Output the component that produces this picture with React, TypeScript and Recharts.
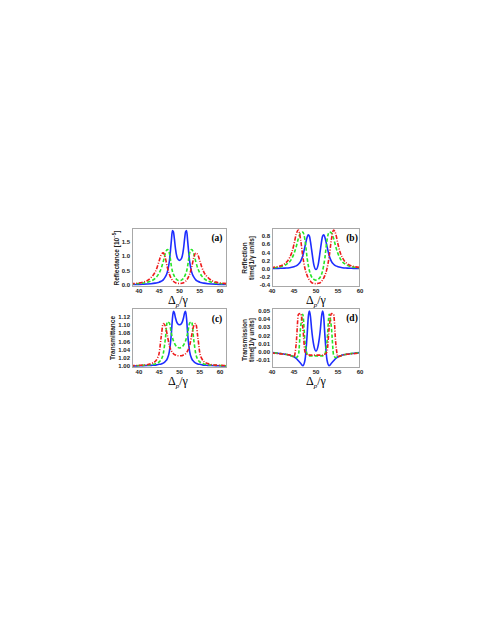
import React from "react";
import { Line, LineChart, XAxis, YAxis } from "recharts";

// probe detuning grid (Δp/γ)
const detuning = [
  38, 39, 40, 41, 42, 43, 44, 44.5, 45, 45.5, 46, 46.5, 47, 47.5, 48, 48.25, 48.5, 48.75, 49, 49.5, 50,
  50.5, 51, 51.25, 51.5, 51.75, 52, 52.5, 53, 53.5, 54, 54.5, 55, 55.5, 56, 57, 58, 59, 60, 61, 62,
];

// (a) reflectance [1e-5]
const reflBlue = [
  0.015, 0.018, 0.022, 0.028, 0.035, 0.045, 0.065, 0.08, 0.1, 0.13, 0.18, 0.28, 0.45, 0.82, 1.55, 1.9, 1.86, 1.6, 1.28, 0.93, 0.86,
  0.93, 1.28, 1.6, 1.86, 1.9, 1.55, 0.82, 0.45, 0.28, 0.18, 0.13, 0.1, 0.08, 0.065, 0.045, 0.035, 0.028, 0.022, 0.018, 0.015,
];
const reflGreen = [
  0.03, 0.04, 0.05, 0.065, 0.09, 0.14, 0.23, 0.31, 0.42, 0.58, 0.82, 1.1, 1.24, 1.12, 0.66, 0.48, 0.38, 0.3, 0.24, 0.17, 0.15,
  0.17, 0.24, 0.3, 0.38, 0.48, 0.66, 1.12, 1.24, 1.1, 0.82, 0.58, 0.42, 0.31, 0.23, 0.14, 0.09, 0.065, 0.05, 0.04, 0.03,
];
const reflRed = [
  0.04, 0.055, 0.07, 0.1, 0.15, 0.26, 0.45, 0.62, 0.85, 1.06, 1.12, 0.95, 0.62, 0.38, 0.22, 0.17, 0.13, 0.1, 0.08, 0.06, 0.05,
  0.06, 0.08, 0.1, 0.13, 0.17, 0.22, 0.38, 0.62, 0.95, 1.12, 1.06, 0.85, 0.62, 0.45, 0.26, 0.15, 0.1, 0.07, 0.055, 0.04,
];

// (b) reflection time [1/γ]
const rtimeBlue = [
  0, 0.003, 0.005, 0.007, 0.01, 0.015, 0.025, 0.035, 0.05, 0.07, 0.11, 0.18, 0.32, 0.55, 0.78, 0.83, 0.8, 0.66, 0.47, 0.1, -0.02,
  0.1, 0.47, 0.66, 0.8, 0.83, 0.78, 0.55, 0.32, 0.18, 0.11, 0.07, 0.05, 0.035, 0.025, 0.015, 0.01, 0.007, 0.005, 0.003, 0,
];
const rtimeGreen = [
  0.01, 0.015, 0.02, 0.03, 0.05, 0.09, 0.17, 0.25, 0.37, 0.54, 0.74, 0.88, 0.9, 0.7, 0.25, 0.08, -0.05, -0.14, -0.2, -0.26, -0.28,
  -0.26, -0.2, -0.14, -0.05, 0.08, 0.25, 0.7, 0.9, 0.88, 0.74, 0.54, 0.37, 0.25, 0.17, 0.09, 0.05, 0.03, 0.02, 0.015, 0.01,
];
const rtimeRed = [
  0.01, 0.02, 0.03, 0.045, 0.07, 0.13, 0.27, 0.4, 0.6, 0.85, 0.95, 0.72, 0.3, 0, -0.17, -0.23, -0.28, -0.31, -0.34, -0.36, -0.37,
  -0.36, -0.34, -0.31, -0.28, -0.23, -0.17, 0, 0.3, 0.72, 0.95, 0.85, 0.6, 0.4, 0.27, 0.13, 0.07, 0.045, 0.03, 0.02, 0.01,
];

// (c) transmittance
const transBlue = [
  1.0, 1.0, 1.0005, 1.0007, 1.001, 1.0015, 1.002, 1.003, 1.004, 1.005, 1.007, 1.011, 1.018, 1.035, 1.08, 1.115, 1.134, 1.13, 1.118, 1.104, 1.101,
  1.104, 1.118, 1.13, 1.134, 1.115, 1.08, 1.035, 1.018, 1.011, 1.007, 1.005, 1.004, 1.003, 1.002, 1.0015, 1.001, 1.0007, 1.0005, 1.0, 1.0,
];
const transGreen = [
  1.0, 1.0005, 1.001, 1.0015, 1.002, 1.003, 1.005, 1.007, 1.01, 1.016, 1.03, 1.065, 1.108, 1.105, 1.08, 1.07, 1.062, 1.056, 1.051, 1.046, 1.044,
  1.046, 1.051, 1.056, 1.062, 1.07, 1.08, 1.105, 1.108, 1.065, 1.03, 1.016, 1.01, 1.007, 1.005, 1.003, 1.002, 1.0015, 1.001, 1.0005, 1.0,
];
const transRed = [
  1.0005, 1.001, 1.0015, 1.002, 1.003, 1.006, 1.011, 1.018, 1.032, 1.072, 1.104, 1.098, 1.075, 1.05, 1.037, 1.033, 1.03, 1.028, 1.027, 1.025, 1.025,
  1.025, 1.027, 1.028, 1.03, 1.033, 1.037, 1.05, 1.075, 1.098, 1.104, 1.072, 1.032, 1.018, 1.011, 1.006, 1.003, 1.002, 1.0015, 1.001, 1.0005,
];

// (d) transmission time [1/γ]
const ttimeBlue = [
  -0.0005, -0.0008, -0.001, -0.0015, -0.002, -0.003, -0.004, -0.005, -0.006, -0.008, -0.011, -0.014, -0.017, -0.01, 0.022, 0.043, 0.05, 0.043, 0.028, 0.008, 0.001,
  0.008, 0.028, 0.043, 0.05, 0.043, 0.022, -0.01, -0.017, -0.014, -0.011, -0.008, -0.006, -0.005, -0.004, -0.003, -0.002, -0.0015, -0.001, -0.0008, -0.0005,
];
const ttimeGreen = [
  -0.0005, -0.0008, -0.001, -0.0015, -0.002, -0.003, -0.004, -0.005, -0.006, -0.007, -0.004, 0.03, 0.046, 0.012, -0.003, -0.004, -0.005, -0.005, -0.005, -0.005, -0.005,
  -0.005, -0.005, -0.005, -0.005, -0.004, -0.003, 0.012, 0.046, 0.03, -0.004, -0.007, -0.006, -0.005, -0.004, -0.003, -0.002, -0.0015, -0.001, -0.0008, -0.0005,
];
const ttimeRed = [
  -0.0005, -0.001, -0.0015, -0.002, -0.0025, -0.003, -0.004, -0.005, -0.006, 0.01, 0.046, 0.047, 0.03, 0, -0.003, -0.003, -0.004, -0.004, -0.004, -0.004, -0.004,
  -0.004, -0.004, -0.004, -0.004, -0.003, -0.003, 0, 0.03, 0.047, 0.046, 0.01, -0.006, -0.005, -0.004, -0.003, -0.0025, -0.002, -0.0015, -0.001, -0.0005,
];

const xTicks = [40, 45, 50, 55, 60];
const reflTicks = [0, 0.5, 1, 1.5];
const rtimeTicks = [-0.4, -0.2, 0, 0.2, 0.4, 0.6, 0.8];
const transTicks = [1.0, 1.02, 1.04, 1.06, 1.08, 1.1, 1.12];
const ttimeTicks = [-0.01, 0, 0.01, 0.02, 0.03, 0.04, 0.05];

const BLUE = "#1d2dff";
const GREEN = "#27e627";
const RED = "#ee1c1c";

const tickFont = { fontSize: 6, fontWeight: 700, fill: "#222", fontFamily: "'Liberation Sans', Arial, sans-serif" };

function rows(blue: number[], green: number[], red: number[]) {
  return detuning.map((x, i) => ({ x, blue: blue[i], green: green[i], red: red[i] }));
}

interface PanelProps {
  left: number;
  top: number;
  w: number;
  h: number;
  data: { x: number; blue: number; green: number; red: number }[];
  xDomain: [number, number];
  yDomain: [number, number];
  yTicks: number[];
  digits: number;
}

function Panel({ left, top, w, h, data, xDomain, yDomain, yTicks, digits }: PanelProps) {
  const yw = 30;
  const xh = 12;
  const rm = 8;
  return (
    <div style={{ position: "absolute", left: left - yw, top, width: yw + w + rm, height: h + xh }}>
      <LineChart width={yw + w + rm} height={h + xh} data={data} margin={{ top: 0, right: rm, left: 0, bottom: 0 }}>
        <XAxis
          dataKey="x"
          type="number"
          domain={xDomain}
          ticks={xTicks}
          interval={0}
          allowDataOverflow
          axisLine={false}
          tickLine={false}
          tickSize={1}
          tickMargin={1}
          height={xh}
          tick={tickFont}
        />
        <YAxis
          type="number"
          domain={yDomain}
          ticks={yTicks}
          interval={0}
          allowDataOverflow
          axisLine={false}
          tickLine={false}
          tickSize={1}
          tickMargin={1}
          width={yw}
          tick={tickFont}
          tickFormatter={(v: number) => v.toFixed(digits)}
        />
        <Line type="monotone" dataKey="blue" stroke={BLUE} strokeWidth={1.6} dot={false} isAnimationActive={false} />
        <Line type="monotone" dataKey="green" stroke={GREEN} strokeWidth={1.6} strokeDasharray="3.5 2" dot={false} isAnimationActive={false} />
        <Line type="monotone" dataKey="red" stroke={RED} strokeWidth={1.6} strokeDasharray="4 1.5 1 1.5" dot={false} isAnimationActive={false} />
      </LineChart>
      <div
        style={{
          position: "absolute",
          left: yw,
          top: 0,
          width: w,
          height: h,
          border: "1px solid #a8a8a8",
          boxSizing: "border-box",
          pointerEvents: "none",
        }}
      />
    </div>
  );
}

const centered: React.CSSProperties = { position: "absolute", transform: "translate(-50%, -50%)", whiteSpace: "nowrap" };

function XTitle({ x, y }: { x: number; y: number }) {
  return (
    <div style={{ ...centered, left: x, top: y, fontFamily: "'Liberation Serif', serif", fontSize: 12, lineHeight: "10px" }}>
      Δ<span style={{ fontSize: 7, fontStyle: "italic", position: "relative", top: 3 }}>p</span>/γ
    </div>
  );
}

function YTitle({ x, y, lines }: { x: number; y: number; lines: React.ReactNode[] }) {
  return (
    <div
      style={{
        ...centered,
        left: x,
        top: y,
        transform: "translate(-50%, -50%) rotate(-90deg)",
        fontFamily: "'Liberation Sans', Arial, sans-serif",
        fontWeight: 700,
        fontSize: 6.5,
        lineHeight: "7px",
        textAlign: "center",
        color: "#222",
      }}
    >
      {lines.map((l, i) => (
        <div key={i}>{l}</div>
      ))}
    </div>
  );
}

function Tag({ x, y, text }: { x: number; y: number; text: string }) {
  return (
    <div style={{ ...centered, left: x, top: y, fontFamily: "'Liberation Serif', serif", fontWeight: 700, fontSize: 9.5 }}>
      {text}
    </div>
  );
}

export default function App() {
  return (
    <div style={{ position: "absolute", left: 0, top: 0, width: 478, height: 618, background: "#fff", overflow: "hidden" }}>
      <Panel left={132} top={228} w={95} h={59} data={rows(reflBlue, reflGreen, reflRed)} xDomain={[38.3, 61.7]} yDomain={[-0.07, 1.99]} yTicks={reflTicks} digits={1} />
      <Panel left={272} top={228} w={88} h={59} data={rows(rtimeBlue, rtimeGreen, rtimeRed)} xDomain={[40, 60]} yDomain={[-0.45, 1.0]} yTicks={rtimeTicks} digits={1} />
      <Panel left={132} top={308} w={95} h={60} data={rows(transBlue, transGreen, transRed)} xDomain={[38.3, 61.7]} yDomain={[0.995, 1.142]} yTicks={transTicks} digits={2} />
      <Panel left={272} top={308} w={88} h={60} data={rows(ttimeBlue, ttimeGreen, ttimeRed)} xDomain={[40, 60]} yDomain={[-0.0198, 0.0537]} yTicks={ttimeTicks} digits={2} />

      <XTitle x={178} y={301} />
      <XTitle x={316} y={301} />
      <XTitle x={178} y={382} />
      <XTitle x={316} y={382} />

      <YTitle x={116} y={258} lines={[<span>Reflectance [10<sup style={{ fontSize: 4.5 }}>−5</sup>]</span>]} />
      <YTitle x={248} y={258} lines={["Reflection", "time[1/γ units]"]} />
      <YTitle x={112} y={338} lines={["Transmittance"]} />
      <YTitle x={248} y={340} lines={["Transmission", "time[1/γ units]"]} />

      <Tag x={217} y={238} text="(a)" />
      <Tag x={352} y={238} text="(b)" />
      <Tag x={217} y={319} text="(c)" />
      <Tag x={352} y={318} text="(d)" />
    </div>
  );
}
